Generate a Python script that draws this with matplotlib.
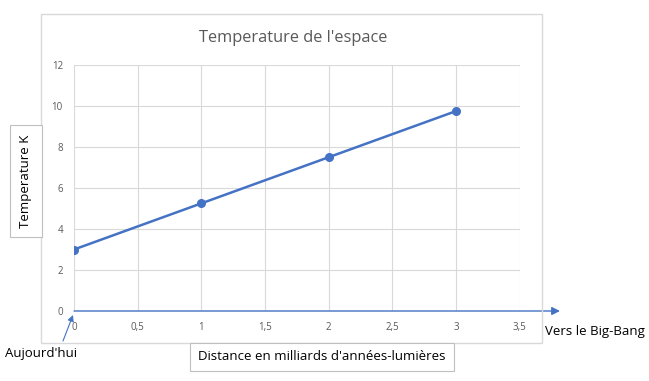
import matplotlib
matplotlib.use('Agg')
import matplotlib.pyplot as plt
from matplotlib.patches import Rectangle

# Données
distance = [0, 1, 2, 3]
temperature = [3, 5.25, 7.5, 9.75]
x_ticks = [0, 0.5, 1, 1.5, 2, 2.5, 3, 3.5]
x_labels = ['0', '0,5', '1', '1,5', '2', '2,5', '3', '3,5']
y_ticks = [0, 2, 4, 6, 8, 10, 12]

BLUE = '#4472C4'
GRID = '#D9D9D9'
TXT = '#595959'

plt.rcParams['font.family'] = ['Open Sans', 'DejaVu Sans']

W, H = 649, 381
fig = plt.figure(figsize=(W / 100, H / 100), dpi=100)


def fx(px):
    return px / W


def fy(py):
    return 1 - py / H


# cadre extérieur du graphique
fig.patches.append(Rectangle((fx(41), fy(343)), fx(542) - fx(41), fy(14) - fy(343),
                             transform=fig.transFigure, fill=False,
                             edgecolor=GRID, linewidth=1))

ax = fig.add_axes([fx(74), fy(311), fx(519.6) - fx(74), fy(65) - fy(311)])
ax.plot(distance, temperature, '-o', color=BLUE, linewidth=1.8, markersize=5.5)
ax.set_xlim(0, 3.5)
ax.set_ylim(0, 12)
ax.set_xticks(x_ticks)
ax.set_xticklabels(x_labels)
ax.set_yticks(y_ticks)
ax.grid(True, color=GRID, linewidth=0.8)
ax.set_axisbelow(True)
for s in ax.spines.values():
    s.set_visible(False)
ax.tick_params(length=0, labelsize=7, labelcolor=TXT, pad=8)

fig.text(fx(293), fy(38), "Temperature de l'espace", ha='center', va='center',
         fontsize=11.8, color=TXT)

# flèche de l'axe des x
ax.annotate('', xy=(fx(560), fy(311)), xycoords='figure fraction',
            xytext=(0, 0), textcoords='data',
            arrowprops=dict(arrowstyle='-|>', color=BLUE, lw=1.0,
                            mutation_scale=12, shrinkA=0, shrinkB=0),
            annotation_clip=False)
# flèche Aujourd'hui
ax.annotate('', xy=(fx(73), fy(315)), xycoords='figure fraction',
            xytext=(fx(63), fy(341)), textcoords='figure fraction',
            arrowprops=dict(arrowstyle='-|>', color=BLUE, lw=0.8,
                            mutation_scale=9, shrinkA=0, shrinkB=0),
            annotation_clip=False)

fig.text(fx(5), fy(353), "Aujourd'hui", ha='left', va='center', fontsize=9.5, color='black')
fig.text(fx(545), fy(331), "Vers le Big-Bang", ha='left', va='center', fontsize=9.5, color='black')

fig.text(fx(322), fy(357), "Distance en milliards d'années-lumières", ha='center', va='center',
         fontsize=9.5, color='black',
         bbox=dict(boxstyle='square,pad=0.6', facecolor='white', edgecolor='#BFBFBF', lw=0.8))
fig.text(fx(26), fy(181), "Temperature K", ha='center', va='center', rotation=90,
         fontsize=9.5, color='black',
         bbox=dict(boxstyle='square,pad=0.7', facecolor='white', edgecolor='#BFBFBF', lw=0.8))

fig.savefig('out.png', dpi=100)
